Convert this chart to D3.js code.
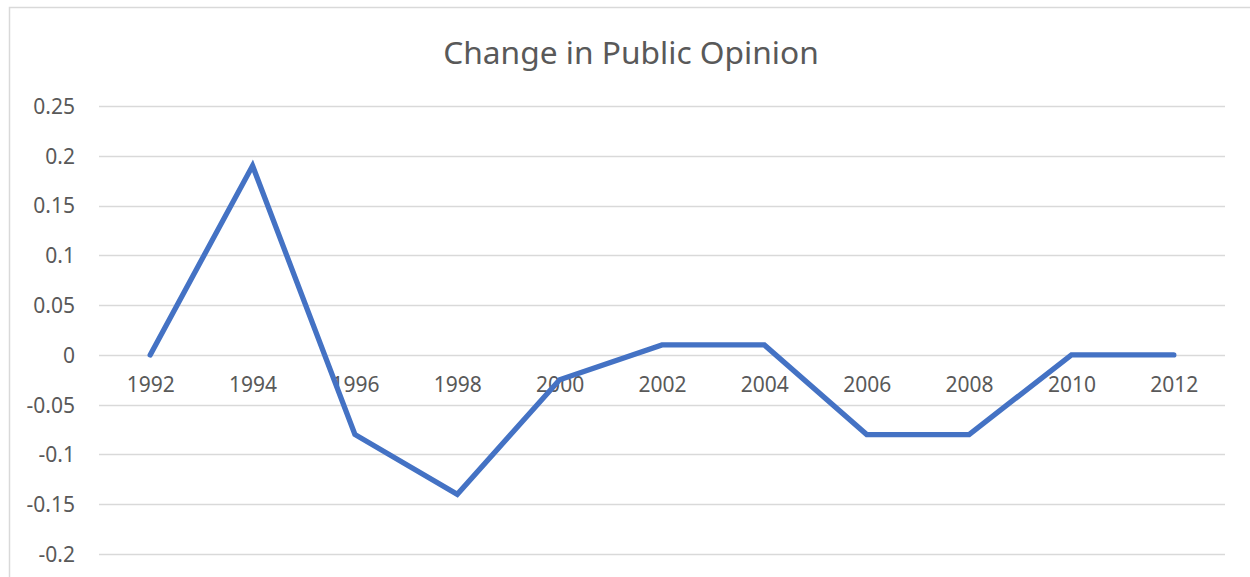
<!DOCTYPE html>
<html>
<head>
<meta charset="utf-8">
<script src="https://cdn.jsdelivr.net/npm/d3@7"></script>
<style>
  html, body { margin: 0; padding: 0; background: #fff; }
  svg { display: block; }
</style>
</head>
<body>
<svg id="chart" width="1250" height="577"></svg>
<script>
// Survey years and the change in public opinion for each
const years = ["1992", "1994", "1996", "1998", "2000", "2002", "2004", "2006", "2008", "2010", "2012"];
const changes = [0, 0.19, -0.08, -0.14, -0.025, 0.01, 0.01, -0.08, -0.08, 0, 0];
const yTicks = [-0.2, -0.15, -0.1, -0.05, 0, 0.05, 0.1, 0.15, 0.2, 0.25];
const title = "Change in Public Opinion";

const svg = d3.select("#chart");
const W = 1250, H = 577;
const plot = { left: 99, right: 1225, top: 106, bottom: 554 };
const textColor = "#595959";
const gridColor = "#d9d9d9";
const font = "'Noto Sans', 'Open Sans', sans-serif";

// Chart area frame (runs off the right and bottom edges)
svg.append("rect")
  .attr("x", 9.5).attr("y", 7.5)
  .attr("width", W + 20).attr("height", H + 20)
  .attr("fill", "#fff")
  .attr("stroke", gridColor).attr("stroke-width", 1.5);

const x = d3.scalePoint().domain(years).range([plot.left, plot.right]).padding(0.5);
const y = d3.scaleLinear().domain([-0.2, 0.25]).range([plot.bottom, plot.top]);

// Horizontal gridlines
svg.append("g")
  .selectAll("line")
  .data(yTicks)
  .join("line")
  .attr("x1", plot.left).attr("x2", plot.right)
  .attr("y1", d => Math.round(y(d)) + 0.5).attr("y2", d => Math.round(y(d)) + 0.5)
  .attr("stroke", gridColor).attr("stroke-width", 1.5);

// Value axis labels
const yAxis = d3.axisLeft(y).tickValues(yTicks).tickSize(0).tickPadding(0)
  .tickFormat(d => String(+d.toFixed(2)));
const yg = svg.append("g").attr("transform", `translate(${75},0)`).call(yAxis);
yg.select(".domain").remove();
yg.selectAll("text")
  .attr("fill", textColor)
  .style("font-family", font)
  .style("font-size", "21px")
  .attr("dy", "0.35em");

// Category labels sit just below the zero line
const xAxis = d3.axisBottom(x).tickSize(0).tickPadding(0);
const xg = svg.append("g").attr("transform", `translate(0,${y(0) + 30})`).call(xAxis);
xg.select(".domain").remove();
xg.selectAll("text")
  .attr("fill", textColor)
  .attr("y", 0)
  .attr("dy", "0.35em")
  .style("font-family", font)
  .style("font-size", "21px");

// Series line
const line = d3.line()
  .x((d, i) => x(years[i]))
  .y(d => y(d));

svg.append("path")
  .datum(changes)
  .attr("d", line)
  .attr("fill", "none")
  .attr("stroke", "#4472c4")
  .attr("stroke-width", 5.3)
  .attr("stroke-linejoin", "miter")
  .attr("stroke-linecap", "round");

// Title
svg.append("text")
  .attr("x", 631).attr("y", 51)
  .attr("text-anchor", "middle")
  .attr("dominant-baseline", "central")
  .attr("fill", textColor)
  .style("font-family", font)
  .style("font-size", "31.7px")
  .text(title);
</script>
</body>
</html>
